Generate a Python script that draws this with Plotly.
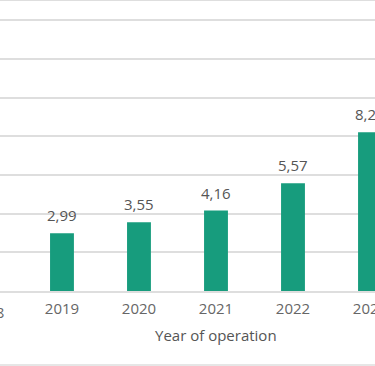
import plotly.graph_objects as go

years = ["2018", "2019", "2020", "2021", "2022", "2023"]
values = [2.46, 2.99, 3.55, 4.16, 5.57, 8.21]
labels = [f"{v:.2f}".replace(".", ",") for v in values]
x_title = "Year of operation"

teal = "#179c7d"
txt = "#666666"
lab_col = "#555555"
grid = "#dedede"
font_family = "Open Sans, sans-serif"

x_range = [0.195, 5.065]

fig = go.Figure()
fig.add_trace(go.Bar(x=years, y=values, marker=dict(color=teal, line=dict(width=0)),
                     width=0.31, hoverinfo="skip"))

for i, (v, lab) in enumerate(zip(values, labels)):
    fig.add_annotation(x=i, y=v, text=lab, showarrow=False, xref="x", yref="y",
                       yanchor="bottom", yshift=6,
                       font=dict(family=font_family, size=15, color=lab_col))

# tick label of the first category, which sits left of the visible axis range
first_frac = (0 - x_range[0]) / (x_range[1] - x_range[0])
fig.add_annotation(x=first_frac, y=0, xref="paper", yref="paper", xanchor="center",
                   yanchor="top", yshift=-9, xshift=2, text=years[0], showarrow=False,
                   font=dict(family=font_family, size=15, color=txt))

fig.add_annotation(x=3, y=-0.15, xref="x", yref="paper", yanchor="middle",
                   text=x_title, showarrow=False,
                   font=dict(family=font_family, size=15, color=lab_col))

fig.add_shape(type="line", xref="paper", yref="paper", x0=-0.1, x1=1.1, y0=-0.255, y1=-0.255,
              line=dict(color=grid, width=1.5))

fig.update_layout(
    width=375, height=366,
    margin=dict(l=0, r=0, t=1, b=75, autoexpand=False),
    paper_bgcolor="white", plot_bgcolor="white",
    showlegend=False,
    font=dict(family=font_family, size=15, color=txt),
    xaxis=dict(type="category", range=x_range, showgrid=False, automargin=False,
               showline=True, mirror=True, linecolor=grid, linewidth=1.5,
               ticks="", ticklabelstandoff=3, tickfont=dict(size=15, color=txt)),
    yaxis=dict(range=[0, 15], dtick=2, showgrid=True, gridcolor=grid, gridwidth=1.5,
               automargin=False, showticklabels=False, zeroline=False, showline=False),
)

fig.write_html("out.html", config={"displayModeBar": False},
               post_script="document.body.style.margin='0';document.body.style.overflow='hidden';")
